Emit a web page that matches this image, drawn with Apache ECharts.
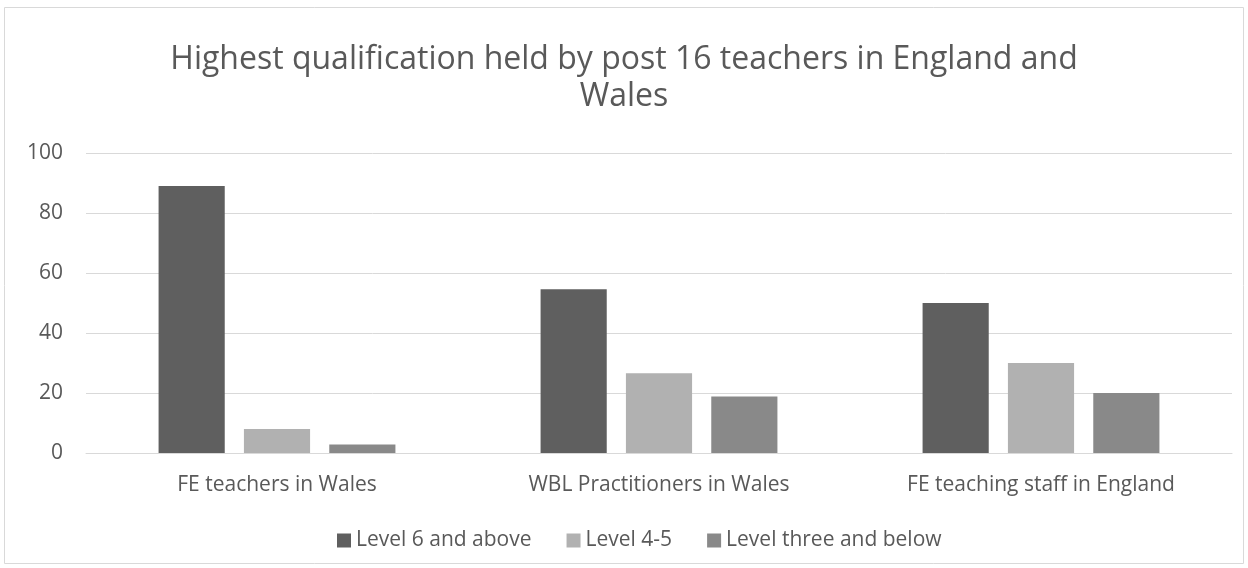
<!DOCTYPE html>
<html>
<head>
<meta charset="utf-8">
<script src="https://cdn.jsdelivr.net/npm/echarts@6/dist/echarts.min.js"></script>
<style>
  html, body { margin: 0; padding: 0; background: #fff; }
  #main { width: 1248px; height: 568px; }
</style>
</head>
<body>
<div id="main"></div>
<script>
// 資料
const categories = ['FE teachers in Wales', 'WBL Practitioners in Wales', 'FE teaching staff in England'];
const seriesNames = ['Level 6 and above', 'Level 4-5', 'Level three and below'];
const level6 = [89, 54.6, 50];
const level45 = [8, 26.6, 30];
const level3 = [2.8, 18.8, 20];
const yTicks = [0, 20, 40, 60, 80, 100];

const colors = ['#5f5f5f', '#b1b1b1', '#898989'];
const textColor = '#595959';
const font = 'Open Sans';

let myChart = echarts.init(document.getElementById('main'));

let option = {
    animation: false,
    textStyle: { fontFamily: font },
    title: {
        text: 'Highest qualification held by post 16 teachers in England and\nWales',
        left: 'center',
        top: 36,
        textStyle: {
            fontFamily: font,
            fontSize: 32,
            fontWeight: 'normal',
            color: textColor,
            lineHeight: 37
        }
    },
    graphic: [{
        type: 'rect',
        shape: { x: 4.5, y: 7.5, width: 1239, height: 556 },
        style: { fill: 'none', stroke: '#d9d9d9', lineWidth: 1 },
        silent: true
    }],
    legend: {
        data: seriesNames,
        bottom: 12,
        left: 332,
        itemWidth: 14,
        itemHeight: 14,
        itemGap: 35,
        icon: 'rect',
        textStyle: { fontFamily: font, fontSize: 21, color: textColor }
    },
    grid: {
        left: 86,
        right: 16,
        top: 153,
        bottom: 115,
        containLabel: false
    },
    xAxis: {
        type: 'category',
        data: categories,
        axisLine: { lineStyle: { color: '#d9d9d9', width: 1 } },
        axisTick: { show: false },
        axisLabel: { fontFamily: font, fontSize: 21, color: textColor, margin: 22 }
    },
    yAxis: {
        type: 'value',
        min: yTicks[0],
        max: yTicks[yTicks.length - 1],
        interval: 20,
        axisLine: { show: false },
        axisTick: { show: false },
        splitLine: { lineStyle: { color: '#d9d9d9', width: 1 } },
        axisLabel: { fontFamily: font, fontSize: 21, color: textColor, margin: 23 }
    },
    series: [
        { name: seriesNames[0], type: 'bar', data: level6, itemStyle: { color: colors[0] }, barCategoryGap: '38%', barGap: '29%' },
        { name: seriesNames[1], type: 'bar', data: level45, itemStyle: { color: colors[1] } },
        { name: seriesNames[2], type: 'bar', data: level3, itemStyle: { color: colors[2] } }
    ]
};

myChart.setOption(option);
</script>
</body>
</html>
